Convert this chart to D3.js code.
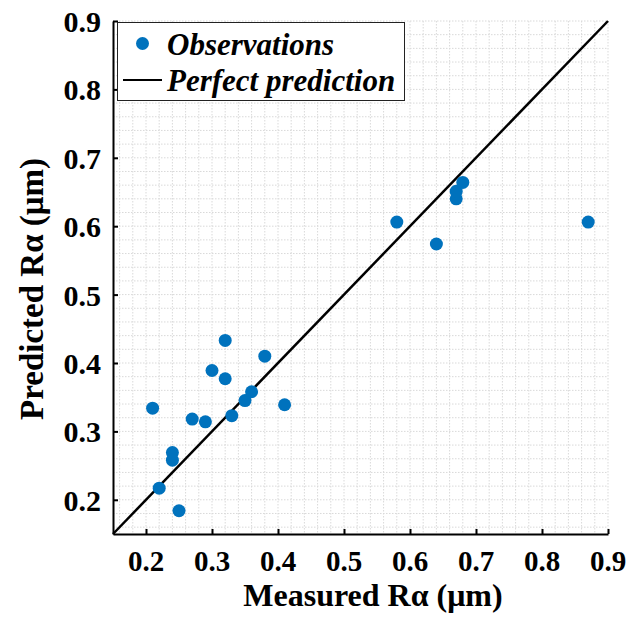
<!DOCTYPE html>
<html>
<head>
<meta charset="utf-8">
<script src="https://cdn.jsdelivr.net/npm/d3@7"></script>
<style>
  body { margin: 0; background: #fff; }
  svg { display: block; }
  svg text { font-family: "Liberation Serif", "Times New Roman", serif; font-weight: bold; }
</style>
</head>
<body>
<svg id="chart" width="627" height="621"></svg>
<script>
// measured vs predicted surface roughness
let measured  = [0.21, 0.22, 0.24, 0.24, 0.25, 0.27, 0.29, 0.30, 0.32, 0.32, 0.33,
                 0.35, 0.36, 0.38, 0.41, 0.58, 0.64, 0.67, 0.67, 0.68, 0.87];
let predicted = [0.334, 0.217, 0.269, 0.258, 0.184, 0.318, 0.314, 0.389, 0.433, 0.377, 0.323,
                 0.345, 0.358, 0.410, 0.339, 0.606, 0.574, 0.640, 0.651, 0.664, 0.606];
let ticks = [0.2, 0.3, 0.4, 0.5, 0.6, 0.7, 0.8, 0.9];
let minorTicks = d3.range(16, 91, 2).map(d => d / 100);
let legendLabels = ["Observations", "Perfect prediction"];

let svg = d3.select("#chart");
let mLeft = 113, mRight = 608, mTop = 21, mBottom = 534;
let serif = "'Liberation Serif', 'Times New Roman', serif";

let x = d3.scaleLinear().domain([0.15, 0.9]).range([mLeft, mRight]);
let y = d3.scaleLinear().domain([0.15, 0.9]).range([mBottom, mTop]);

// dotted grid
let grid = svg.append("g")
  .attr("stroke", "#d9d9d9")
  .attr("stroke-width", 1)
  .attr("stroke-dasharray", "1.5,1.5");
grid.selectAll(".gx").data(minorTicks).enter().append("line")
  .attr("x1", d => x(d)).attr("x2", d => x(d))
  .attr("y1", mTop).attr("y2", mBottom);
grid.selectAll(".gy").data(minorTicks).enter().append("line")
  .attr("x1", mLeft).attr("x2", mRight)
  .attr("y1", d => y(d)).attr("y2", d => y(d));

// perfect prediction line
svg.append("line")
  .attr("x1", x(0.15)).attr("y1", y(0.15))
  .attr("x2", x(0.9)).attr("y2", y(0.9))
  .attr("stroke", "#000").attr("stroke-width", 2.5);

// observations
let pts = measured.map((m, i) => ({m: m, p: predicted[i]}));
svg.selectAll("circle.obs").data(pts).enter().append("circle")
  .attr("class", "obs")
  .attr("cx", d => x(d.m))
  .attr("cy", d => y(d.p))
  .attr("r", 6.5)
  .attr("fill", "#0072BD");

// axes, inward ticks
let xAxis = svg.append("g")
  .attr("transform", "translate(0," + mBottom + ")")
  .call(d3.axisTop(x).tickValues(ticks).tickSize(5).tickSizeOuter(0).tickFormat(d3.format(".1f")));
xAxis.selectAll("text").remove();
let yAxis = svg.append("g")
  .attr("transform", "translate(" + mLeft + ",0)")
  .call(d3.axisRight(y).tickValues(ticks).tickSize(5).tickSizeOuter(0).tickFormat(d3.format(".1f")));
yAxis.selectAll("text").remove();
svg.selectAll(".domain, .tick line").attr("stroke", "#000").attr("stroke-width", 2);

svg.append("g").selectAll("text").data(ticks).enter().append("text")
  .attr("x", d => x(d)).attr("y", 571)
  .attr("text-anchor", "middle")
  .attr("font-family", serif)
  .attr("font-size", 29)
  .text(d3.format(".1f"));
svg.append("g").selectAll("text").data(ticks).enter().append("text")
  .attr("x", 101).attr("y", d => y(d) + 11)
  .attr("text-anchor", "end")
  .attr("font-family", serif)
  .attr("font-size", 30)
  .text(d3.format(".1f"));

// axis titles
svg.append("text")
  .attr("x", 373).attr("y", 606)
  .attr("text-anchor", "middle")
  .attr("font-family", serif)
  .attr("font-size", 32)
  .text("Measured Rα (μm)");
svg.append("text")
  .attr("transform", "translate(43," + 289 + ") rotate(-90)")
  .attr("text-anchor", "middle")
  .attr("font-family", serif)
  .attr("font-size", 33)
  .text("Predicted Rα (μm)");

// legend
let lg = svg.append("g");
lg.append("rect")
  .attr("x", 117.5).attr("y", 22.5).attr("width", 287).attr("height", 78)
  .attr("fill", "#fff").attr("stroke", "#222").attr("stroke-width", 1);
lg.append("circle").attr("cx", 142.5).attr("cy", 43.5).attr("r", 6.5).attr("fill", "#0072BD");
lg.append("line").attr("x1", 123).attr("x2", 162).attr("y1", 80).attr("y2", 80)
  .attr("stroke", "#000").attr("stroke-width", 2);
lg.selectAll("text.lt").data(legendLabels).enter().append("text")
  .attr("class", "lt")
  .attr("x", 167).attr("y", (d, i) => 55 + i * 36)
  .attr("font-family", serif)
  .attr("font-size", 31)
  .attr("font-style", "italic")
  .text(d => d);
</script>
</body>
</html>
